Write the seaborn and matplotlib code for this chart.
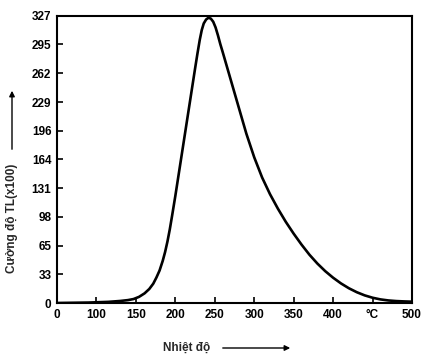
import matplotlib
matplotlib.use("Agg")
import matplotlib.pyplot as plt
import seaborn as sns
import pandas as pd

# Axis positions (evenly spaced labels on the original chart)
x_tick_pos = [0, 50, 100, 150, 200, 250, 300, 350, 400, 450]
x_tick_labels = ["0", "100", "150", "200", "250", "300", "350", "400", "°C", "500"]
y_ticks = [0, 33, 65, 98, 131, 164, 196, 229, 262, 295, 327]

# Glow curve (x in axis units, y = TL intensity x100)
temp = [0, 40, 65, 80, 90, 97, 104, 111, 117, 122, 126, 130, 134, 137, 140, 143,
        146, 150, 155, 160, 165, 170, 175, 178, 181, 183.5, 186, 189, 192, 195,
        198, 201, 204, 207, 210, 220, 230, 240, 250, 260, 270, 280,
        290, 300, 310, 320, 330, 340, 350, 360, 370, 380, 390, 400, 410, 420,
        430, 440, 450]
intensity = [0, 0.5, 1.3, 2.3, 3.3, 4.5, 7, 11, 16, 22, 29, 37, 48, 58, 70, 84,
             100, 122, 151, 180, 209, 238, 267, 284, 300, 311, 318.5, 323, 325, 324,
             320.5, 314, 305, 295, 286, 255, 224, 193, 166, 143, 124, 107.5,
             92.5, 79, 66.5, 55, 45, 36.3, 28.8, 22.3, 16.8, 12.3, 8.7, 6, 4.1, 2.9,
             2.2, 1.8, 1.5]

df = pd.DataFrame({"temp": temp, "intensity": intensity})

sns.set_style("ticks")
plt.rcParams["font.family"] = ["Liberation Sans", "DejaVu Sans"]

fig = plt.figure(figsize=(4.32, 3.59), dpi=100)
ax = fig.add_axes([57 / 432, 1 - 303 / 359, (412 - 57) / 432, (303 - 16) / 359])

sns.lineplot(data=df, x="temp", y="intensity", ax=ax, color="black", linewidth=1.9)
ax.lines[0].set_solid_joinstyle("round")

ax.set_xlim(0, 450)
ax.set_ylim(0, 327)
ax.set_xticks(x_tick_pos)
ax.set_xticklabels(x_tick_labels)
ax.set_yticks(y_ticks)
ax.set_yticklabels([str(v) for v in y_ticks])
ax.tick_params(direction="in", length=4, width=1.2, colors="black", labelsize=8.5, pad=4)
for lab in ax.get_xticklabels() + ax.get_yticklabels():
    lab.set_fontweight("bold")
for s in ax.spines.values():
    s.set_visible(True)
    s.set_linewidth(1.5)
    s.set_color("black")
ax.set_xlabel("")
ax.set_ylabel("")

fig.text(12 / 432, 1 - 218 / 359, "Cường độ TL(x100)", rotation=90, ha="center",
         va="center", fontsize=8.5, fontweight="bold")
fig.text(187 / 432, 1 - 348 / 359, "Nhiệt độ", ha="center", va="center",
         fontsize=8.5, fontweight="bold")

ax.annotate("", xy=(12, 359 - 88), xytext=(12, 359 - 152), xycoords="figure pixels",
            textcoords="figure pixels",
            arrowprops=dict(arrowstyle="-|>", color="black", lw=1.0, mutation_scale=8))
ax.annotate("", xy=(293, 359 - 348), xytext=(220, 359 - 348), xycoords="figure pixels",
            textcoords="figure pixels",
            arrowprops=dict(arrowstyle="-|>", color="black", lw=1.0, mutation_scale=8))

fig.savefig("out.png", dpi=100)
